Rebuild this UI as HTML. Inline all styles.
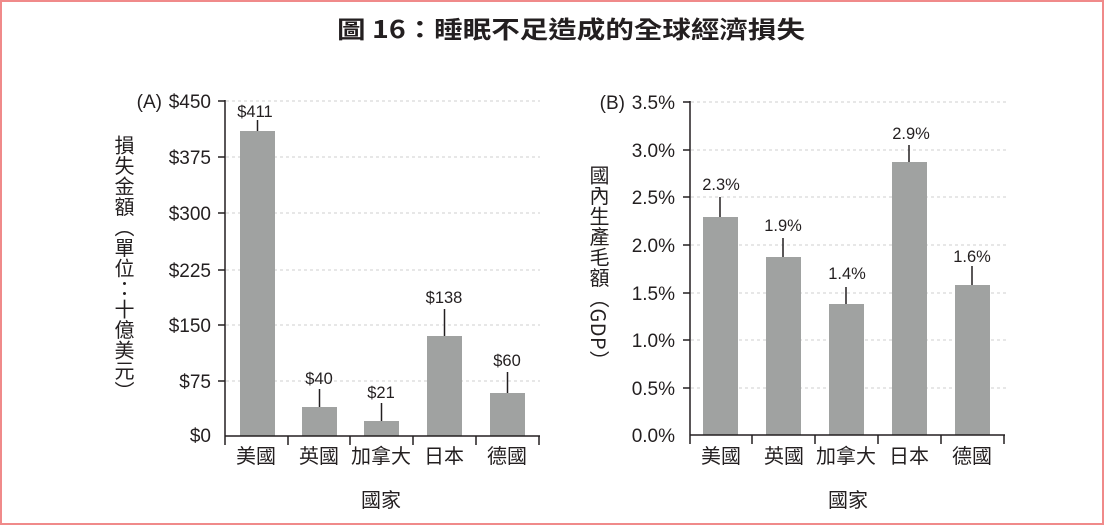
<!DOCTYPE html>
<html><head><meta charset="utf-8"><style>
html,body{margin:0;padding:0;background:#fff;}
svg{display:block;}
text{font-family:"Liberation Sans","Noto Sans CJK TC",sans-serif;fill:#231f20;}
.cjk{font-family:"Noto Sans CJK TC","Liberation Sans",sans-serif;}
.vl{position:absolute;writing-mode:vertical-rl;text-orientation:mixed;font-family:"Noto Sans CJK TC","Liberation Sans",sans-serif;color:#231f20;font-size:20px;line-height:1;letter-spacing:0.5px;}
</style></head><body>
<div style="position:relative;width:1104px;height:525px;">
<svg width="1104" height="525" viewBox="0 0 1104 525" xmlns="http://www.w3.org/2000/svg">
<rect x="1" y="1" width="1102" height="523" fill="#fff" stroke="#f08a8a" stroke-width="2"/>
<text x="337" y="38" font-size="24" font-weight="bold" class="cjk" textLength="468" lengthAdjust="spacingAndGlyphs">圖 16：睡眠不足造成的全球經濟損失</text>

<!-- Chart A -->
<g stroke="#cfcfcf" stroke-width="1" stroke-dasharray="3,3">
<line x1="226" y1="101" x2="540" y2="101"/><line x1="226" y1="157" x2="540" y2="157"/>
<line x1="226" y1="213" x2="540" y2="213"/><line x1="226" y1="270" x2="540" y2="270"/>
<line x1="226" y1="325" x2="540" y2="325"/><line x1="226" y1="381" x2="540" y2="381"/>
</g>
<g fill="#a0a2a1">
<rect x="240" y="131" width="35" height="305"/>
<rect x="302" y="407" width="35" height="29"/>
<rect x="364" y="421" width="35" height="15"/>
<rect x="427" y="336" width="35" height="100"/>
<rect x="490" y="393" width="35" height="43"/>
</g>
<g stroke="#231f20" stroke-width="1.5">
<line x1="257.5" y1="120" x2="257.5" y2="131"/>
<line x1="319.5" y1="389" x2="319.5" y2="407"/>
<line x1="381.5" y1="403" x2="381.5" y2="421"/>
<line x1="444.5" y1="309" x2="444.5" y2="336"/>
<line x1="507.5" y1="372" x2="507.5" y2="393"/>
<line x1="225" y1="100" x2="225" y2="436"/>
<line x1="225" y1="436" x2="540" y2="436"/>
<line x1="225" y1="436" x2="225" y2="445"/><line x1="288" y1="436" x2="288" y2="445"/>
<line x1="350" y1="436" x2="350" y2="445"/><line x1="413" y1="436" x2="413" y2="445"/>
<line x1="476" y1="436" x2="476" y2="445"/><line x1="539" y1="436" x2="539" y2="445"/>
<line x1="218" y1="101" x2="225" y2="101"/><line x1="218" y1="157" x2="225" y2="157"/>
<line x1="218" y1="213" x2="225" y2="213"/><line x1="218" y1="270" x2="225" y2="270"/>
<line x1="218" y1="325" x2="225" y2="325"/><line x1="218" y1="381" x2="225" y2="381"/>
</g>
<g font-size="19" text-anchor="end">
<text x="211" y="108">$450</text><text x="211" y="164">$375</text>
<text x="211" y="220">$300</text><text x="211" y="277">$225</text>
<text x="211" y="332">$150</text><text x="211" y="388">$75</text>
<text x="211" y="442">$0</text>
<text x="162" y="108">(A)</text>
</g>
<g font-size="16.5" text-anchor="middle">
<text x="255" y="117">$411</text><text x="319" y="384">$40</text>
<text x="381" y="398">$21</text><text x="444" y="303">$138</text>
<text x="507" y="366">$60</text>
</g>
<g font-size="20" text-anchor="middle" class="cjk">
<text x="256" y="463">美國</text><text x="319" y="463">英國</text>
<text x="381" y="463">加拿大</text><text x="444" y="463">日本</text>
<text x="507" y="463">德國</text>
<text x="381" y="507">國家</text>
</g>

<!-- Chart B -->
<g stroke="#cfcfcf" stroke-width="1" stroke-dasharray="3,3">
<line x1="691" y1="102" x2="1007" y2="102"/><line x1="691" y1="150" x2="1007" y2="150"/>
<line x1="691" y1="197" x2="1007" y2="197"/><line x1="691" y1="245" x2="1007" y2="245"/>
<line x1="691" y1="293" x2="1007" y2="293"/><line x1="691" y1="340" x2="1007" y2="340"/>
<line x1="691" y1="388" x2="1007" y2="388"/>
</g>
<g fill="#a0a2a1">
<rect x="703" y="217" width="35" height="218"/>
<rect x="766" y="257" width="35" height="178"/>
<rect x="829" y="304" width="35" height="131"/>
<rect x="892" y="162" width="35" height="273"/>
<rect x="955" y="285" width="35" height="150"/>
</g>
<g stroke="#231f20" stroke-width="1.5">
<line x1="720" y1="197" x2="720" y2="217"/>
<line x1="783" y1="238" x2="783" y2="257"/>
<line x1="846" y1="287" x2="846" y2="304"/>
<line x1="909" y1="145" x2="909" y2="162"/>
<line x1="972" y1="266" x2="972" y2="285"/>
<line x1="690" y1="101" x2="690" y2="435"/>
<line x1="690" y1="435" x2="1005" y2="435"/>
<line x1="690" y1="435" x2="690" y2="444"/><line x1="752" y1="435" x2="752" y2="444"/>
<line x1="815" y1="435" x2="815" y2="444"/><line x1="878" y1="435" x2="878" y2="444"/>
<line x1="941" y1="435" x2="941" y2="444"/><line x1="1004" y1="435" x2="1004" y2="444"/>
<line x1="683" y1="102" x2="690" y2="102"/><line x1="683" y1="150" x2="690" y2="150"/>
<line x1="683" y1="197" x2="690" y2="197"/><line x1="683" y1="245" x2="690" y2="245"/>
<line x1="683" y1="293" x2="690" y2="293"/><line x1="683" y1="340" x2="690" y2="340"/>
<line x1="683" y1="388" x2="690" y2="388"/>
</g>
<g font-size="19" text-anchor="end">
<text x="675" y="109">3.5%</text><text x="675" y="157">3.0%</text>
<text x="675" y="204">2.5%</text><text x="675" y="252">2.0%</text>
<text x="675" y="300">1.5%</text><text x="675" y="347">1.0%</text>
<text x="675" y="395">0.5%</text><text x="675" y="442">0.0%</text>
<text x="625" y="109">(B)</text>
</g>
<g font-size="16.5" text-anchor="middle">
<text x="721" y="190">2.3%</text><text x="783" y="231">1.9%</text>
<text x="847" y="279">1.4%</text><text x="911" y="139">2.9%</text>
<text x="972" y="262">1.6%</text>
</g>
<g font-size="20" text-anchor="middle" class="cjk">
<text x="721" y="463">美國</text><text x="784" y="463">英國</text>
<text x="846" y="463">加拿大</text><text x="909" y="463">日本</text>
<text x="972" y="463">德國</text>
<text x="848" y="507">國家</text>
</g>
</svg>
<div class="vl" style="left:114px;top:135px;">損失金額（單位：十億美元）</div>
<div class="vl" style="left:589px;top:165px;">國內生產毛額（GDP）</div>
</div>
</body></html>
